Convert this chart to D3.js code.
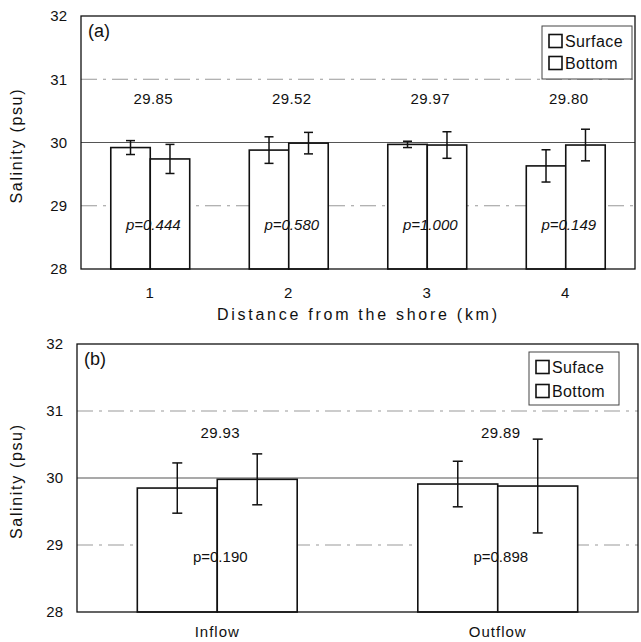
<!DOCTYPE html>
<html>
<head>
<meta charset="utf-8">
<script src="https://cdn.jsdelivr.net/npm/d3@7"></script>
<style>
  body { margin: 0; background: #fff; }
  text { font-family: "Liberation Sans", Arial, sans-serif; fill: #111; }
</style>
</head>
<body>
<div id="chart"></div>
<script>
// panel (a): distance from the shore
var distCats = ["1", "2", "3", "4"];
var distSurface = [29.92, 29.88, 29.97, 29.63];
var distSurfaceErr = [0.11, 0.21, 0.05, 0.255];
var distBottom = [29.74, 29.99, 29.96, 29.96];
var distBottomErr = [0.23, 0.17, 0.21, 0.25];
var distMeans = ["29.85", "29.52", "29.97", "29.80"];
var distP = ["p=0.444", "p=0.580", "p=1.000", "p=0.149"];

// panel (b): inflow / outflow
var flowCats = ["Inflow", "Outflow"];
var flowSurface = [29.85, 29.91];
var flowSurfaceErr = [0.375, 0.34];
var flowBottom = [29.98, 29.88];
var flowBottomErr = [0.38, 0.70];
var flowMeans = ["29.93", "29.89"];
var flowP = ["p=0.190", "p=0.898"];

var yTicks = [28, 29, 30, 31, 32];

var svg = d3.select("#chart").append("svg")
    .attr("width", 641)
    .attr("height", 642);

function drawPanel(o) {
    var width = o.x1 - o.x0,
        height = o.y1 - o.y0;

    var g = svg.append("g")
        .attr("transform", "translate(" + o.x0 + "," + o.y0 + ")");

    var x = d3.scaleBand()
        .domain(o.cats)
        .range([0, width])
        .paddingInner(0.43)
        .paddingOuter(0.215);

    var xSub = d3.scaleBand()
        .domain(["s", "b"])
        .range([0, x.bandwidth()]);

    var y = d3.scaleLinear()
        .domain([28, 32])
        .range([height, 0]);

    // grid lines
    g.selectAll(".grid")
        .data([29, 30, 31])
        .enter().append("line")
        .attr("x1", 0)
        .attr("x2", width)
        .attr("y1", function(d) { return y(d); })
        .attr("y2", function(d) { return y(d); })
        .attr("stroke", function(d) { return d == 30 ? "#555" : "#999"; })
        .attr("stroke-width", function(d) { return d == 30 ? 1.2 : 1; })
        .attr("stroke-dasharray", function(d) { return d == 30 ? null : "16,6,3,6"; });

    var bars = [];
    o.cats.forEach(function(c, i) {
        bars.push({ cat: c, k: "s", v: o.surf[i], e: o.surfErr[i] });
        bars.push({ cat: c, k: "b", v: o.bot[i], e: o.botErr[i] });
    });

    g.selectAll(".bar")
        .data(bars)
        .enter().append("rect")
        .attr("x", function(d) { return x(d.cat) + xSub(d.k); })
        .attr("y", function(d) { return y(d.v); })
        .attr("width", xSub.bandwidth())
        .attr("height", function(d) { return y(28) - y(d.v); })
        .attr("fill", "#fff")
        .attr("stroke", "#111")
        .attr("stroke-width", 1.6);

    // error bars
    var err = g.selectAll(".err")
        .data(bars)
        .enter().append("g")
        .attr("transform", function(d) {
            return "translate(" + (x(d.cat) + xSub(d.k) + xSub.bandwidth() / 2) + ",0)";
        });
    err.append("line")
        .attr("y1", function(d) { return y(d.v + d.e); })
        .attr("y2", function(d) { return y(d.v - d.e); })
        .attr("stroke", "#111")
        .attr("stroke-width", 1.5);
    err.selectAll(".cap")
        .data(function(d) { return [d.v + d.e, d.v - d.e]; })
        .enter().append("line")
        .attr("x1", -o.cap)
        .attr("x2", o.cap)
        .attr("y1", function(d) { return y(d); })
        .attr("y2", function(d) { return y(d); })
        .attr("stroke", "#111")
        .attr("stroke-width", 1.5);

    // mean labels and p values
    g.selectAll(".mean")
        .data(o.means)
        .enter().append("text")
        .attr("x", function(d, i) { return x(o.cats[i]) + x.bandwidth() / 2 + 3; })
        .attr("y", o.meanY)
        .attr("text-anchor", "middle")
        .attr("font-size", 15)
        .attr("letter-spacing", 0.4)
        .text(function(d) { return d; });

    g.selectAll(".pval")
        .data(o.pvals)
        .enter().append("text")
        .attr("x", function(d, i) { return x(o.cats[i]) + x.bandwidth() / 2 + 3; })
        .attr("y", o.pY)
        .attr("text-anchor", "middle")
        .attr("font-size", 15)
        .attr("font-style", o.pItalic ? "italic" : "normal")
        .text(function(d) { return d; });

    // frame
    g.append("rect")
        .attr("width", width)
        .attr("height", height)
        .attr("fill", "none")
        .attr("stroke", "#111")
        .attr("stroke-width", 1.3);

    // axes
    var ya = g.append("g")
        .call(d3.axisLeft(y).tickValues(yTicks).tickSize(0).tickPadding(14).tickFormat(d3.format("d")));
    ya.select(".domain").remove();
    ya.selectAll("text")
        .attr("font-size", 15)
        .attr("font-family", null)
        .attr("fill", "#111");

    var xa = g.append("g")
        .attr("transform", "translate(0," + height + ")")
        .call(d3.axisBottom(x).tickSize(0).tickPadding(o.xPad));
    xa.select(".domain").remove();
    xa.selectAll("text")
        .attr("font-size", 15)
        .attr("letter-spacing", 1)
        .attr("font-family", null)
        .attr("fill", "#111");

    // y title
    g.append("text")
        .attr("transform", "translate(" + (22 - o.x0) + "," + (height / 2 + 4) + ") rotate(-90)")
        .attr("text-anchor", "middle")
        .attr("font-size", 16)
        .attr("textLength", 114)
        .attr("lengthAdjust", "spacing")
        .text("Salinity (psu)");

    // panel tag
    g.append("text")
        .attr("x", 7)
        .attr("y", 21)
        .attr("font-size", 18)
        .text(o.tag);

    // legend
    var lg = g.append("g")
        .attr("transform", "translate(" + (o.legX - o.x0) + "," + (o.legY - o.y0) + ")");
    lg.append("rect")
        .attr("width", 90)
        .attr("height", 53)
        .attr("fill", "#fff")
        .attr("stroke", "#444")
        .attr("stroke-width", 1);
    lg.selectAll(".item")
        .data(o.legend)
        .enter().append("g")
        .attr("transform", function(d, i) { return "translate(7," + (15 + i * o.legStep) + ")"; })
        .each(function(d) {
            var it = d3.select(this);
            it.append("rect")
                .attr("x", 0)
                .attr("y", -6.5)
                .attr("width", 13)
                .attr("height", 13)
                .attr("fill", "#fff")
                .attr("stroke", "#111")
                .attr("stroke-width", 1.6);
            it.append("text")
                .attr("x", 16)
                .attr("y", 5.5)
                .attr("font-size", 16)
                .attr("letter-spacing", 0.4)
                .text(d);
        });

    return g;
}

drawPanel({
    x0: 81, x1: 635, y0: 16, y1: 269,
    cats: distCats,
    surf: distSurface, surfErr: distSurfaceErr,
    bot: distBottom, botErr: distBottomErr,
    means: distMeans, pvals: distP, pItalic: true,
    meanY: 104 - 16, pY: 230 - 16, cap: 4.5, xPad: 18,
    tag: "(a)", legend: ["Surface", "Bottom"],
    legX: 542, legY: 26, legStep: 22
});

// x title of panel (a)
svg.append("text")
    .attr("x", 357)
    .attr("y", 320)
    .attr("text-anchor", "middle")
    .attr("font-size", 16)
    .attr("textLength", 280)
    .attr("lengthAdjust", "spacing")
    .text("Distance from the shore (km)");

drawPanel({
    x0: 77, x1: 638, y0: 344, y1: 612,
    cats: flowCats,
    surf: flowSurface, surfErr: flowSurfaceErr,
    bot: flowBottom, botErr: flowBottomErr,
    means: flowMeans, pvals: flowP, pItalic: false,
    meanY: 438 - 344, pY: 562 - 344, cap: 5, xPad: 14,
    tag: "(b)", legend: ["Suface", "Bottom"],
    legX: 529, legY: 352, legStep: 24
});
</script>
</body>
</html>
